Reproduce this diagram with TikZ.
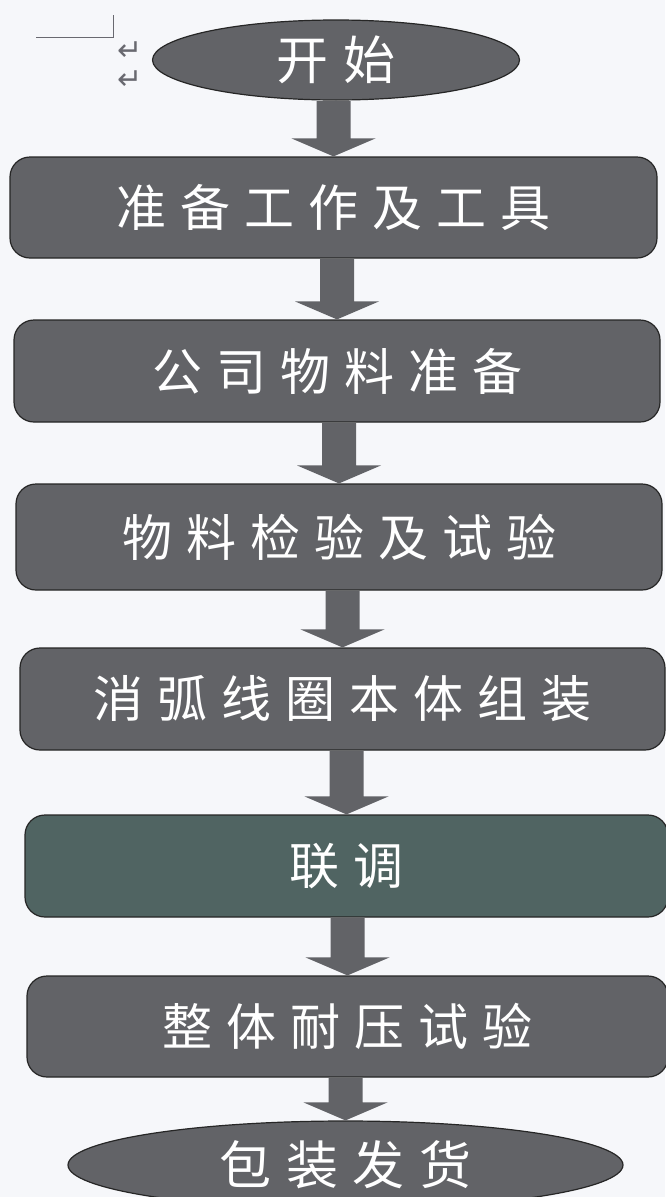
\documentclass[tikz,border=0pt]{standalone}
\usepackage{fontspec}
\newfontfamily\cjk[LetterSpace=28]{Noto Sans CJK SC}
\newfontfamily\symb{DejaVu Sans}
\usetikzlibrary{shapes.geometric,calc}

\definecolor{paper}{RGB}{246,247,250}
\definecolor{boxgray}{RGB}{98,99,103}
\definecolor{boxteal}{RGB}{80,100,98}
\definecolor{markgray}{RGB}{105,105,112}

\tikzset{
  stage/.style={draw=black!85,line width=1.2pt,fill=boxgray,
    rounded corners=20pt,inner sep=0pt,text=white,
    font=\cjk\fontsize{50}{54}\selectfont},
  terminal/.style={ellipse,draw=black!85,line width=1.2pt,fill=boxgray,
    inner sep=0pt,text=white,font=\cjk\fontsize{52}{56}\selectfont},
  flowarrow/.style={fill=boxgray},
  wordmark/.style={inner sep=0pt,text=markgray,
    font=\symb\fontsize{30}{30}\selectfont}
}

% block arrow from the bottom of #1 to the top of #2
\newcommand{\blockarrow}[2]{%
  \fill[flowarrow]
    ($(#1.south -| #2.north)+(-17,-0.6)$) -- ($(#2.north)+(-17,18)$)
    -- ($(#2.north)+(-42,18)$) -- (#2.north)
    -- ($(#2.north)+(42,18)$) -- ($(#2.north)+(17,18)$)
    -- ($(#1.south -| #2.north)+(17,-0.6)$) -- cycle;}

\begin{document}
\begin{tikzpicture}[x=1pt,y=1pt]
  \fill[paper] (0,0) rectangle (665,-1197);
  \useasboundingbox (0,0) rectangle (665,-1197);

  % page marks
  \draw[markgray,line width=0.8pt] (36,-37) -- (113,-37) -- (113,-15);
  \node[wordmark] (ret1) at (130,-51) {↵};
  \node[wordmark] (ret2) at (130,-80) {↵};

  % flow
  \node[terminal,minimum width=367pt,minimum height=80pt]
    (start) at (336,-60) {开始};
  \node[stage,minimum width=647pt,minimum height=101pt]
    (prep) at (333.5,-207.5) {准备工作及工具};
  \node[stage,minimum width=646pt,minimum height=102pt]
    (material) at (337,-371) {公司物料准备};
  \node[stage,minimum width=646pt,minimum height=106pt]
    (inspect) at (339,-537) {物料检验及试验};
  \node[stage,minimum width=645pt,minimum height=102pt]
    (assembly) at (342.5,-699) {消弧线圈本体组装};
  \node[stage,fill=boxteal,minimum width=643pt,minimum height=102pt]
    (tuning) at (346.5,-866) {联调};
  \node[stage,minimum width=641pt,minimum height=101pt]
    (hipot) at (347.5,-1026.5) {整体耐压试验};
  \node[terminal,minimum width=555pt,minimum height=88pt]
    (ship) at (345.5,-1165) {包装发货};

  \foreach \a/\b in {start/prep,prep/material,material/inspect,
      inspect/assembly,assembly/tuning,tuning/hipot,hipot/ship}
    \blockarrow{\a}{\b};
\end{tikzpicture}
\end{document}
